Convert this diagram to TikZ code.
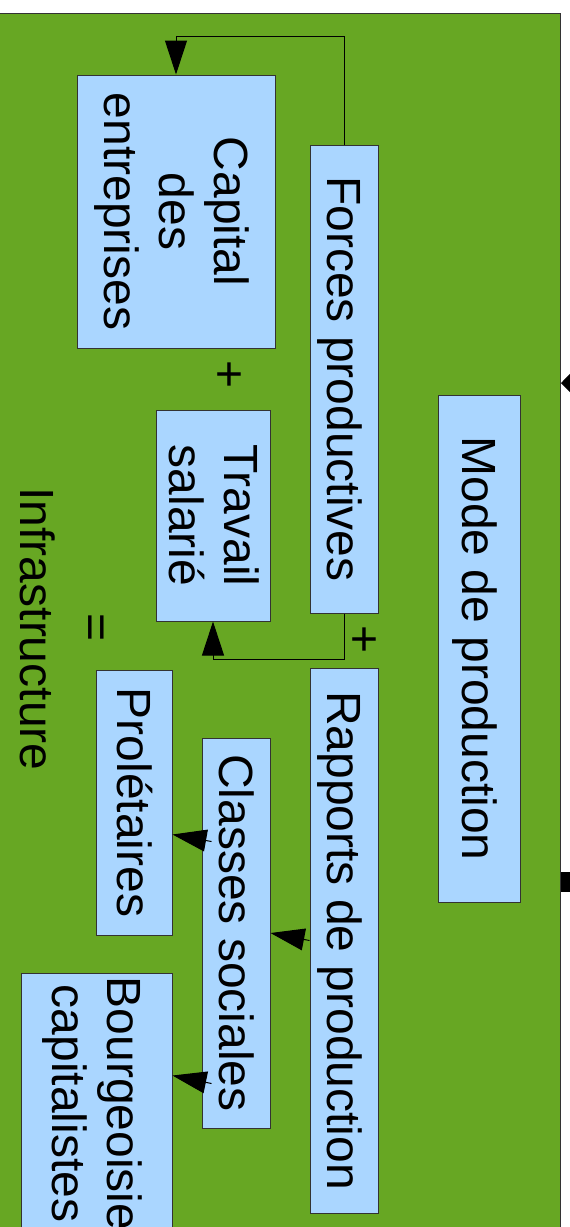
\documentclass[tikz,border=0pt]{standalone}
\usepackage{fontspec}
\setmainfont{Liberation Sans}
\usetikzlibrary{arrows.meta,calc}
\definecolor{infragreen}{HTML}{67A723}
\definecolor{boxblue}{HTML}{AAD6FF}
\definecolor{edgegray}{HTML}{333333}
\newcommand\ls{\rule[-10pt]{0pt}{53pt}}
\begin{document}
\begin{tikzpicture}[x=1pt,y=-1pt,
  box/.style={draw=edgegray, line width=1pt, fill=boxblue, rotate=-90, inner sep=0pt, align=center, font=\fontsize{48}{55}\selectfont},
  lbl/.style={inner sep=0pt, rotate=-90, font=\fontsize{48}{55}\selectfont},
  conn/.style={draw=black, line width=1pt, -{Triangle[length=34pt,width=22pt]}},
  extconn/.style={draw=black, line width=1pt, -{Triangle[length=11pt,width=22pt]}}]
\clip (0,0) rectangle (570,1227);
\node[draw=edgegray, line width=1pt, fill=infragreen, inner sep=0pt, minimum width=600pt, minimum height=1260pt, anchor=north east] (infra) at (561,12.5) {};
\node[box, minimum width=273pt, minimum height=198pt] (capital) at (176,211.5) {\ls Capital\\des\\entreprises\ls};
\node[box, minimum width=468pt, minimum height=68pt] (forces) at (344,379) {\ls Forces productives};
\node[box, minimum width=211pt, minimum height=114pt] (travail) at (213,515.5) {\ls Travail\\salarié\ls};
\node[box, minimum width=507pt, minimum height=82pt] (mode) at (479,648.5) {\ls Mode de production};
\node[box, minimum width=545pt, minimum height=68pt] (rapports) at (344,940.5) {\ls Rapports de production};
\node[box, minimum width=390pt, minimum height=68pt] (classes) at (236,933) {\ls Classes sociales};
\node[box, minimum width=265pt, minimum height=76pt] (prol) at (134,802.5) {\ls Prolétaires};
\node[box, minimum width=261pt, minimum height=151pt] (bourg) at (96.5,1103.5) {\ls Bourgeoisie\\capitalistes\ls};
\node[lbl] (plusA) at (227,375) {+};
\node[lbl] (plusB) at (362,640) {+};
\node[lbl] (eq) at (92,628) {=};
\node[lbl] (infratxt) at (38,629) {Infrastructure};
\draw[conn] (forces.west) -- ++(0,-108) -| (capital.west);
\draw[conn] (forces.east) -- ++(0,46) -| (travail.east);
\draw[conn] (rapports.south) -- (classes.north);
\draw[conn] ($(classes.south west)+(10,104)$) -- ($(prol.north west)+(0,165)$);
\draw[conn] ($(classes.south west)+(10,346)$) -- ($(bourg.north west)+(0,103)$);
\coordinate (extA) at (640,383);
\draw[extconn] (extA) -- (infra.east |- extA);
\node[fill=black, inner sep=0pt, minimum width=30pt, minimum height=20pt, anchor=west] (sq) at (561,882) {};
\end{tikzpicture}
\end{document}
